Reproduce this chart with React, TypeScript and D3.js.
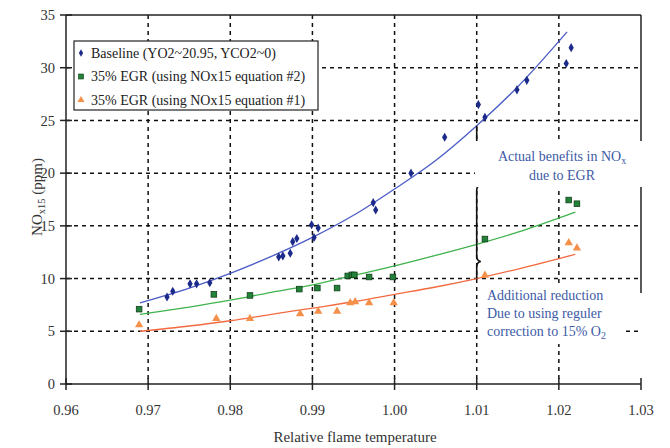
import React from "react";
import * as d3 from "d3";

// Measured NOx15 (ppm) vs. relative flame temperature
const baselineT = [0.9723, 0.973, 0.9751, 0.9759, 0.9775, 0.9859, 0.9864, 0.9873, 0.9876, 0.9881, 0.9899, 0.9907, 0.9902, 0.9974, 0.9977, 1.002, 1.0061, 1.0102, 1.011, 1.0149, 1.0161, 1.0209, 1.0215];
const baselineNOx = [8.25, 8.8, 9.5, 9.5, 9.6, 12.05, 12.15, 12.4, 13.5, 13.8, 15.1, 14.8, 13.9, 17.2, 16.5, 20.0, 23.4, 26.5, 25.3, 27.9, 28.8, 30.4, 31.9];

const egr2T = [0.9689, 0.978, 0.9824, 0.9884, 0.9906, 0.993, 0.9943, 0.9948, 0.9951, 0.9969, 0.9998, 1.011, 1.0212, 1.0222];
const egr2NOx = [7.1, 8.5, 8.4, 9.0, 9.1, 9.1, 10.25, 10.35, 10.35, 10.15, 10.15, 13.75, 17.45, 17.1];

const egr1T = [0.9689, 0.9783, 0.9824, 0.9885, 0.9907, 0.993, 0.9946, 0.9952, 0.9969, 0.9999, 1.011, 1.0212, 1.0222];
const egr1NOx = [5.6, 6.2, 6.2, 6.65, 6.9, 6.9, 7.7, 7.8, 7.7, 7.7, 10.3, 13.4, 12.9];

// Trend lines
const fitT = [0.969, 0.975, 0.98, 0.985, 0.99, 0.995, 1.0, 1.005, 1.01, 1.015, 1.021];
const baselineFit = [7.7, 9.1, 10.5, 12.1, 13.9, 16.0, 18.5, 21.2, 24.5, 28.2, 33.4];
const fitT2 = [0.969, 0.975, 0.98, 0.985, 0.99, 0.995, 1.0, 1.005, 1.01, 1.015, 1.022];
const egr2Fit = [6.6, 7.3, 7.95, 8.7, 9.4, 10.3, 11.2, 12.2, 13.25, 14.4, 16.3];
const egr1Fit = [5.0, 5.5, 6.0, 6.6, 7.2, 7.8, 8.5, 9.2, 10.0, 10.9, 12.3];

const xTicks = [0.96, 0.97, 0.98, 0.99, 1.0, 1.01, 1.02, 1.03];
const yTicks = [0, 5, 10, 15, 20, 25, 30, 35];
const legendLabels = [
  "Baseline (YO2~20.95, YCO2~0)",
  "35% EGR (using NOx15 equation #2)",
  "35% EGR (using NOx15 equation #1)",
];
const braceT = 1.01;

const W = 670;
const H = 448;
const FONT = "'Liberation Serif', 'Times New Roman', serif";

const C_BLUE_PT = "#1c2a8a";
const C_BLUE_LN = "#4b5cc6";
const C_GREEN_PT = "#23823a";
const C_GREEN_LN = "#3fb34c";
const C_ORANGE_PT = "#f5904a";
const C_ORANGE_LN = "#f26a40";
const C_NOTE = "#3d5aa6";

export default function App() {
  const x = d3.scaleLinear().domain([0.96, 1.03]).range([66, 641]);
  const y = d3.scaleLinear().domain([0, 35]).range([384, 15]);

  const line = d3
    .line<[number, number]>()
    .x((d) => x(d[0]))
    .y((d) => y(d[1]))
    .curve(d3.curveMonotoneX);

  const zip = (a: number[], b: number[]) => a.map((v, i) => [v, b[i]] as [number, number]);

  const diamond = d3.symbol(d3.symbolDiamond, 24)()!;
  const triangle = d3.symbol(d3.symbolTriangle, 30)()!;

  const gridDash = "4,4";
  const bx = x(braceT);
  const yB = y(baselineFit[fitT.indexOf(braceT)]);
  const yG = y(egr2Fit[fitT2.indexOf(braceT)]);
  const yO = y(egr1Fit[fitT2.indexOf(braceT)]);

  const brace = (y0: number, y1: number) => {
    const m = (y0 + y1) / 2;
    return `M${bx},${y0} L${bx},${m - 5} Q${bx},${m - 1} ${bx + 4},${m} Q${bx},${m + 1} ${bx},${m + 5} L${bx},${y1}`;
  };

  const legendX = 74;
  const legendY = 41;
  const rowY = [53, 76.5, 100];

  return (
    <div style={{ position: "absolute", left: 0, top: 0, width: W, height: H, background: "#fff" }}>
      <svg width={W} height={H} style={{ display: "block", fontFamily: FONT }}>
        <rect width={W} height={H} fill="#fff" />

        {/* grid */}
        <g stroke="#111" strokeWidth={1.5} strokeDasharray={gridDash}>
          {xTicks.slice(1, -1).map((t) => (
            <line key={"gx" + t} x1={x(t)} x2={x(t)} y1={y(35)} y2={y(0)} />
          ))}
          {yTicks.slice(1, -1).map((t) => (
            <line key={"gy" + t} x1={x(0.96)} x2={x(1.03)} y1={y(t)} y2={y(t)} />
          ))}
        </g>

        {/* frame */}
        <g stroke="#222" strokeWidth={1.5}>
          <line x1={x(0.96)} x2={x(0.96)} y1={y(35)} y2={y(0)} />
          <line x1={x(0.96)} x2={x(1.03)} y1={y(0)} y2={y(0)} />
          <line x1={x(0.96)} x2={x(1.03)} y1={y(35)} y2={y(35)} />
          <line x1={x(1.03)} x2={x(1.03)} y1={y(35)} y2={293} />
          {yTicks.map((t) => (
            <line key={"ty" + t} x1={x(0.96) - 6} x2={x(0.96) + 6} y1={y(t)} y2={y(t)} />
          ))}
          {xTicks.map((t) => (
            <line key={"tx" + t} x1={x(t)} x2={x(t)} y1={y(0) - 6} y2={y(0) + 6} />
          ))}
        </g>

        {/* tick labels */}
        <g fill="#333" fontSize={14.5}>
          {yTicks.map((t) => (
            <text key={"ly" + t} x={55} y={y(t)} dy="0.35em" textAnchor="end">
              {t}
            </text>
          ))}
          {xTicks.map((t) => (
            <text key={"lx" + t} x={x(t)} y={410} dy="0.35em" textAnchor="middle">
              {d3.format(".2f")(t)}
            </text>
          ))}
        </g>

        {/* axis titles */}
        <text x={355} y={442} textAnchor="middle" fontSize={15} fill="#333">
          Relative flame temperature
        </text>
        <g transform="translate(42,197) rotate(-90)">
          <text textAnchor="middle" fontSize={15} fill="#333">
            <tspan>NO</tspan>
            <tspan fontSize={10.5} dy={3}>x15</tspan>
            <tspan dy={-3}> (ppm)</tspan>
          </text>
        </g>

        {/* trend lines */}
        <path d={line(zip(fitT, baselineFit))!} fill="none" stroke={C_BLUE_LN} strokeWidth={1.3} />
        <path d={line(zip(fitT2, egr2Fit))!} fill="none" stroke={C_GREEN_LN} strokeWidth={1.3} />
        <path d={line(zip(fitT2, egr1Fit))!} fill="none" stroke={C_ORANGE_LN} strokeWidth={1.3} />

        {/* braces */}
        <g fill="none" stroke="#111" strokeWidth={1.6}>
          <path d={brace(yB, yG)} />
          <path d={brace(yG, yO)} />
        </g>

        {/* markers */}
        {baselineT.map((t, i) => (
          <path key={"b" + i} d={diamond} transform={`translate(${x(t)},${y(baselineNOx[i])})`} fill={C_BLUE_PT} />
        ))}
        {egr2T.map((t, i) => (
          <rect key={"g" + i} x={x(t) - 2.8} y={y(egr2NOx[i]) - 2.8} width={5.6} height={5.6} fill={C_GREEN_PT} stroke="#0f3f18" strokeWidth={0.8} />
        ))}
        {egr1T.map((t, i) => (
          <path key={"o" + i} d={triangle} transform={`translate(${x(t)},${y(egr1NOx[i])})`} fill={C_ORANGE_PT} />
        ))}

        {/* legend */}
        <rect x={legendX} y={legendY} width={244} height={69} fill="#fff" stroke="#222" strokeWidth={1.2} />
        <path d={d3.symbol(d3.symbolDiamond, 16)()!} transform={`translate(81,${rowY[0]})`} fill={C_BLUE_PT} />
        <rect x={78.5} y={rowY[1] - 2.5} width={5} height={5} fill={C_GREEN_PT} stroke="#0f3f18" strokeWidth={0.6} />
        <path d={d3.symbol(d3.symbolTriangle, 22)()!} transform={`translate(81,${rowY[2]})`} fill={C_ORANGE_PT} />
        <g fontSize={14} fill="#222">
          {legendLabels.map((s, i) => (
            <text key={"lg" + i} x={91} y={rowY[i]} dy="0.35em">
              {s}
            </text>
          ))}
        </g>

        {/* annotations */}
        <rect x={475} y={141} width={185} height={46} fill="#fff" />
        <text x={562} y={161} textAnchor="middle" fontSize={14} fill={C_NOTE}>
          <tspan>Actual benefits in NO</tspan>
          <tspan fontSize={10} dy={3}>x</tspan>
        </text>
        <text x={562} y={180} textAnchor="middle" fontSize={14} fill={C_NOTE}>
          due to EGR
        </text>

        <rect x={482} y={284} width={144} height={60} fill="#fff" />
        <g fontSize={14} fill={C_NOTE}>
          <text x={487} y={300}>Additional reduction</text>
          <text x={487} y={318}>Due to using reguler</text>
          <text x={487} y={336}>
            <tspan>correction to 15% O</tspan>
            <tspan fontSize={10} dy={3}>2</tspan>
          </text>
        </g>
      </svg>
    </div>
  );
}
